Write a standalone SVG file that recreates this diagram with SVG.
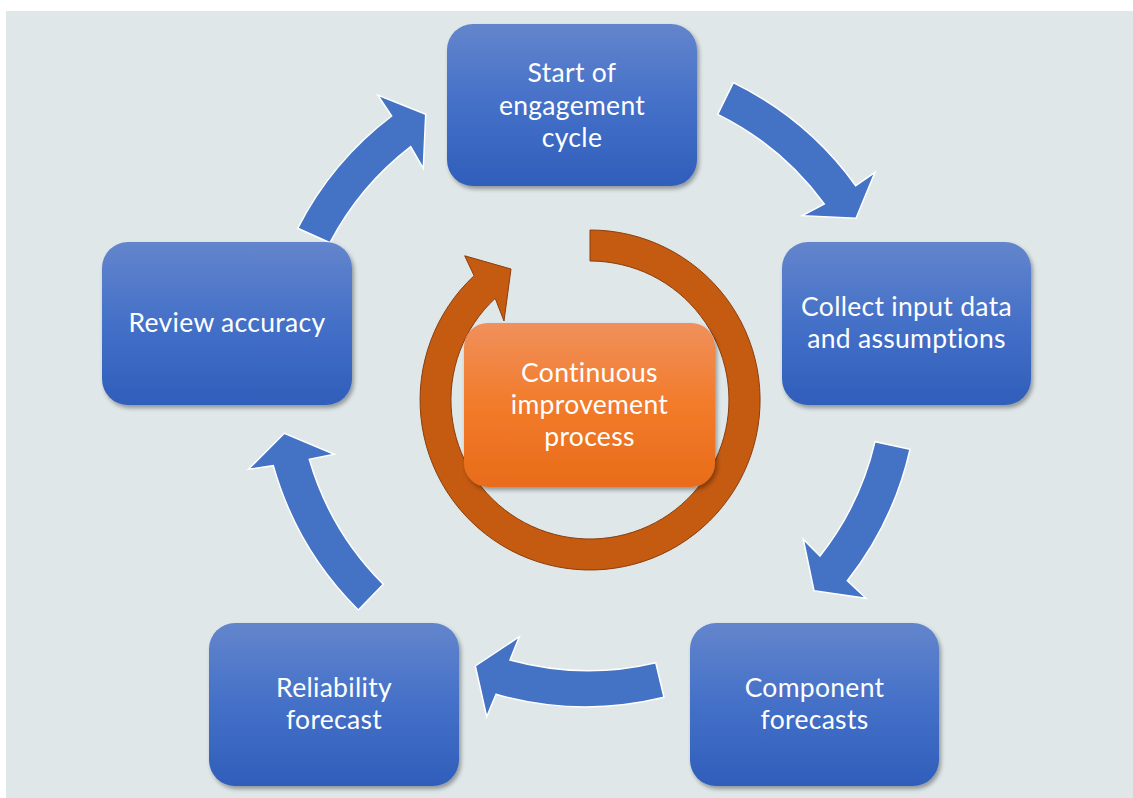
<svg xmlns="http://www.w3.org/2000/svg" width="1133" height="798" viewBox="0 0 1133 798">
<defs>
<linearGradient id="gBlue" x1="0" y1="0" x2="0" y2="1">
<stop offset="0" stop-color="#6385CC"/>
<stop offset="0.5" stop-color="#4470C8"/>
<stop offset="1" stop-color="#2F5EBA"/>
</linearGradient>
<linearGradient id="gOrange" x1="0" y1="0" x2="0" y2="1">
<stop offset="0" stop-color="#F0905C"/>
<stop offset="0.5" stop-color="#F27B2A"/>
<stop offset="1" stop-color="#E86C1A"/>
</linearGradient>
<filter id="sh" x="-10%" y="-10%" width="125%" height="130%">
<feDropShadow dx="2" dy="3" stdDeviation="2" flood-color="#000" flood-opacity="0.35"/>
</filter>
<style>
.node{fill:url(#gBlue);filter:url(#sh)}
.onode{fill:url(#gOrange);filter:url(#sh)}
.arr{fill:#4472C4;stroke:#FFFFFF;stroke-width:1.5;stroke-linejoin:miter}
.ring{fill:#C55A11;stroke:#8A3E0C;stroke-width:1}
text{font-family:Lato,"Open Sans","Liberation Sans",sans-serif;font-size:26.5px;letter-spacing:0.3px;fill:#FFFFFF;text-anchor:middle}
</style>
</defs>
<rect x="0" y="0" width="1133" height="798" fill="#FFFFFF"/>
<rect x="6" y="11" width="1127" height="787" fill="#DFE7E9"/>
<g id="connectors">
<path class="arr" d="M297.7 228.3 A329 329 0 0 1 391.7 116 L377.7 95 L425.7 114.3 L423.3 168.3 L410.7 146.7 A293 293 0 0 0 330 242.7 Z"/>
<path class="arr" d="M733.3 82.7 A329 329 0 0 1 855.7 185.7 L875 172.3 L856 218.3 L802.3 215.7 L824.3 204 A293 293 0 0 0 717.7 114.3 Z"/>
<path class="arr" d="M910 449.3 A329 329 0 0 1 847.3 580.7 L866 598.3 L814 590.7 L803.3 539.3 L820 556 A292 292 0 0 0 875 441.7 Z"/>
<path class="arr" d="M664 697.3 A329 329 0 0 1 496 694.3 L486.7 716.7 L475.3 666 L519.3 636.7 L510 660 A292 292 0 0 0 655.7 662.7 Z"/>
<path class="arr" d="M358.3 610 A329 329 0 0 1 273.3 465.7 L248.3 469.3 L284.3 433.3 L334.3 454.3 L309.3 459.3 A292 292 0 0 0 383.3 584.3 Z"/>
<path class="ring" d="M590 230 A170 170 0 1 1 474.1 275.7 L464.7 255.8 L511 269 L504 321 L495.2 298.3 A139 139 0 1 0 590 261 Z"/>
</g>
<g id="node-start">
<rect class="node" x="447" y="24" width="250" height="162" rx="26"/>
<text x="572" y="82"><tspan x="572" y="82">Start of</tspan><tspan x="572" y="114.5">engagement</tspan><tspan x="572" y="147">cycle</tspan></text>
</g>
<g id="node-collect">
<rect class="node" x="782" y="242" width="249" height="163" rx="26"/>
<text x="906.5" y="316"><tspan x="906.5" y="316">Collect input data</tspan><tspan x="906.5" y="348">and assumptions</tspan></text>
</g>
<g id="node-component">
<rect class="node" x="690" y="623" width="249" height="163" rx="26"/>
<text x="814.5" y="697"><tspan x="814.5" y="697">Component</tspan><tspan x="814.5" y="729">forecasts</tspan></text>
</g>
<g id="node-reliability">
<rect class="node" x="209" y="623" width="250" height="163" rx="26"/>
<text x="334" y="697"><tspan x="334" y="697">Reliability</tspan><tspan x="334" y="729">forecast</tspan></text>
</g>
<g id="node-review">
<rect class="node" x="102" y="242" width="250" height="163" rx="26"/>
<text x="227" y="332">Review accuracy</text>
</g>
<g id="node-continuous">
<rect class="onode" x="464" y="323" width="251" height="164" rx="24"/>
<text x="589.5" y="382"><tspan x="589.5" y="382">Continuous</tspan><tspan x="589.5" y="414">improvement</tspan><tspan x="589.5" y="446">process</tspan></text>
</g>
</svg>
